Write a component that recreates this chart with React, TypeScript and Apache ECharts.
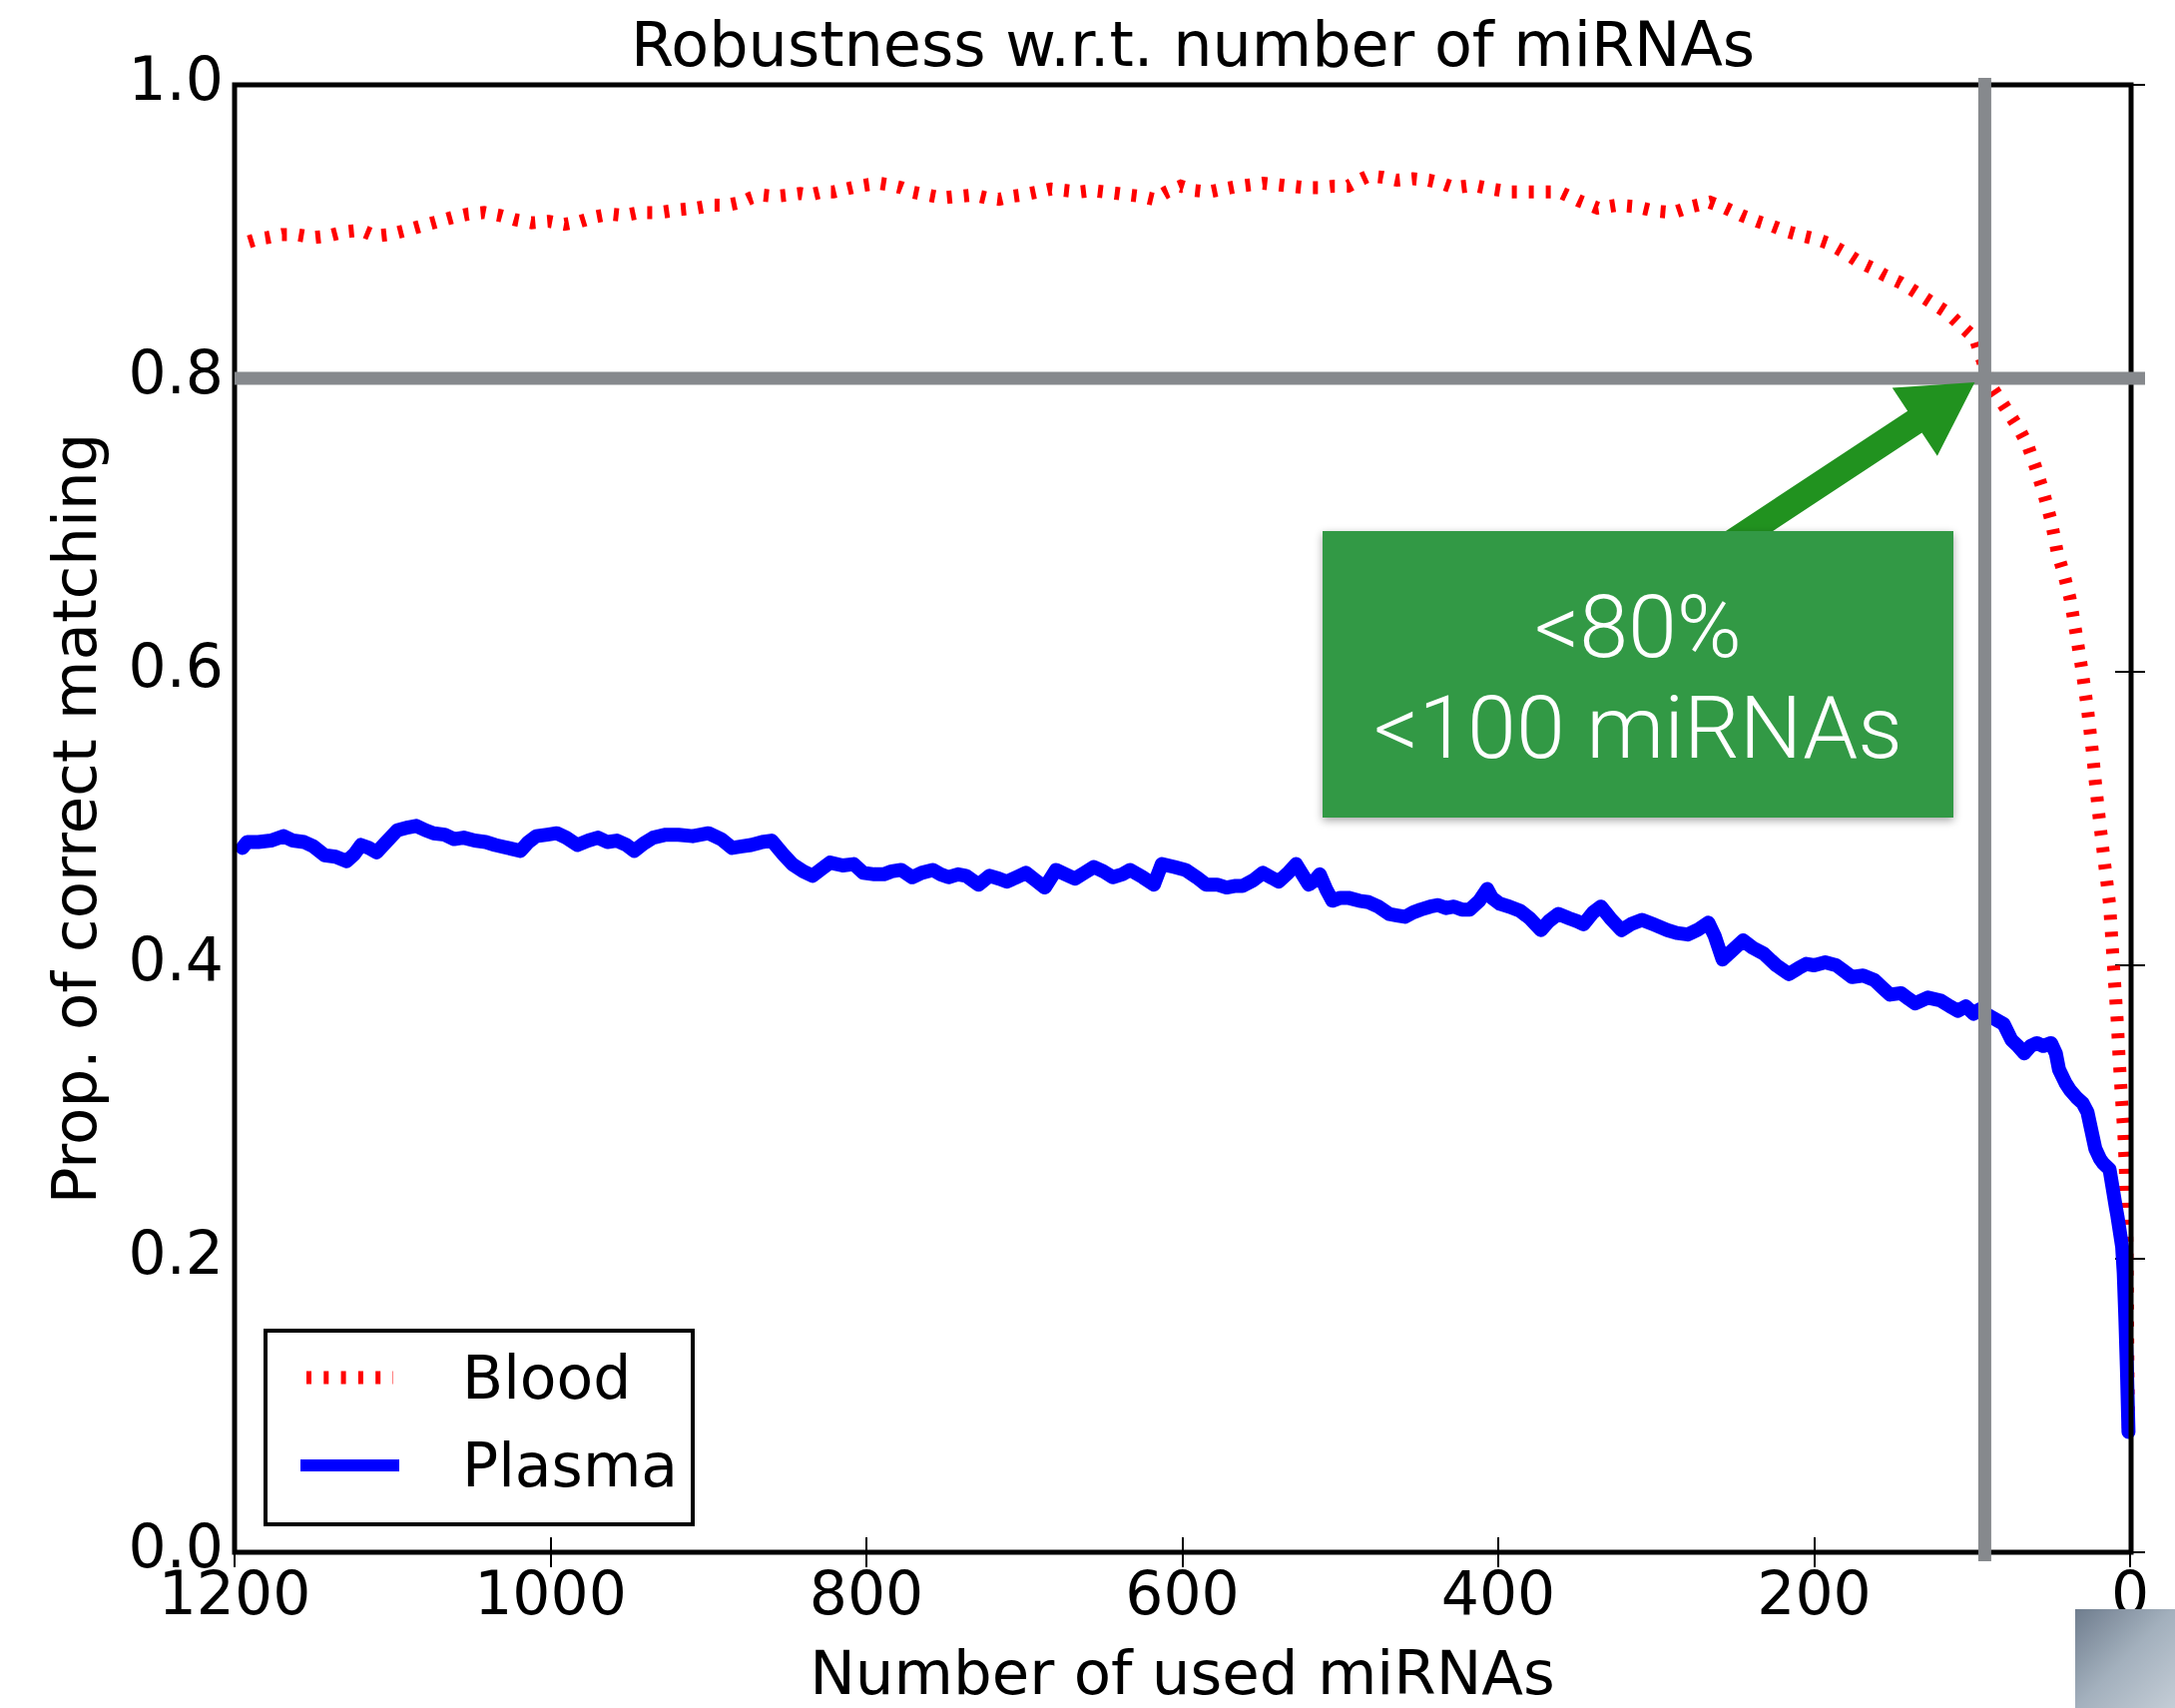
import React, { useEffect, useRef } from "react";
import * as echarts from "echarts";

const titleText = "Robustness w.r.t. number of miRNAs";
const xAxisName = "Number of used miRNAs";
const yAxisName = "Prop. of correct matching";
const seriesNames = ["Blood", "Plasma"];
const xTicks = [0, 200, 400, 600, 800, 1000, 1200];
const yTicks = [0, 0.2, 0.4, 0.6, 0.8, 1.0];
const thresholdProp = 0.8;
const thresholdCount = 92;
const calloutLines = ["<80%", "<100 miRNAs"];

// Blood (red dotted)
const bloodN = [1191, 1185, 1179, 1170, 1161, 1150, 1141, 1130, 1120, 1111, 1102, 1091, 1081, 1071, 1061, 1052, 1042, 1032, 1022, 1012, 1001, 991, 981, 972, 962, 953, 944, 931, 918, 908, 897, 888, 879, 873, 867, 858, 849, 842, 836, 828, 821, 813, 805, 799, 792, 786, 778, 771, 762, 752, 742, 732, 724, 716, 708, 701, 692, 683, 674, 665, 657, 649, 641, 634, 626, 618, 610, 601, 592, 583, 574, 564, 556, 549, 540, 531, 522, 513, 504, 495, 488, 482, 473, 464, 454, 444, 436, 428, 420, 413, 404, 392, 377, 361, 349, 337, 325, 313, 301, 289, 278, 266, 256, 246, 236, 227, 217, 207, 199, 191, 181, 171, 163, 155, 145, 136, 126, 116, 107, 98, 92, 87, 82, 76, 70, 65, 60, 55, 50, 46, 42, 38, 34, 30, 27, 24, 22, 19, 16, 13, 10, 8, 7, 6, 5, 4, 3, 2, 1];
const bloodV = [0.893, 0.895, 0.896, 0.898, 0.898, 0.896, 0.897, 0.9, 0.901, 0.897, 0.898, 0.901, 0.904, 0.907, 0.91, 0.912, 0.913, 0.911, 0.908, 0.906, 0.907, 0.905, 0.907, 0.91, 0.912, 0.911, 0.913, 0.913, 0.915, 0.916, 0.918, 0.918, 0.92, 0.923, 0.925, 0.924, 0.925, 0.926, 0.925, 0.927, 0.927, 0.929, 0.931, 0.932, 0.933, 0.932, 0.93, 0.927, 0.925, 0.923, 0.924, 0.925, 0.923, 0.922, 0.924, 0.925, 0.927, 0.929, 0.928, 0.927, 0.928, 0.927, 0.926, 0.925, 0.924, 0.922, 0.927, 0.931, 0.928, 0.927, 0.929, 0.931, 0.932, 0.933, 0.932, 0.931, 0.93, 0.93, 0.931, 0.931, 0.935, 0.938, 0.937, 0.935, 0.936, 0.935, 0.933, 0.93, 0.931, 0.931, 0.929, 0.927, 0.927, 0.927, 0.921, 0.916, 0.918, 0.917, 0.914, 0.913, 0.917, 0.92, 0.916, 0.911, 0.907, 0.904, 0.9, 0.897, 0.895, 0.892, 0.886, 0.879, 0.875, 0.87, 0.865, 0.859, 0.852, 0.845, 0.836, 0.827, 0.807, 0.793, 0.785, 0.775, 0.765, 0.755, 0.74, 0.723, 0.703, 0.681, 0.667, 0.65, 0.625, 0.598, 0.575, 0.547, 0.525, 0.495, 0.468, 0.442, 0.391, 0.36, 0.338, 0.32, 0.302, 0.287, 0.262, 0.21, 0.078];

// Plasma (blue solid)
const plasmaN = [1195, 1192, 1185, 1177, 1169, 1163, 1156, 1150, 1143, 1136, 1129, 1124, 1120, 1115, 1110, 1104, 1097, 1090, 1085, 1079, 1074, 1067, 1061, 1055, 1048, 1041, 1035, 1027, 1019, 1014, 1009, 1002, 996, 990, 983, 976, 970, 964, 958, 952, 947, 941, 935, 927, 919, 910, 900, 892, 885, 879, 873, 866, 860, 853, 847, 840, 834, 828, 823, 815, 808, 802, 795, 789, 784, 778, 771, 765, 758, 753, 748, 742, 737, 729, 722, 716, 711, 705, 699, 693, 687, 680, 674, 668, 662, 656, 650, 644, 638, 633, 625, 618, 613, 605, 598, 591, 585, 578, 572, 567, 562, 555, 549, 544, 539, 533, 528, 524, 520, 516, 513, 509, 505, 500, 495, 488, 482, 476, 469, 464, 459, 454, 449, 443, 438, 433, 428, 423, 418, 412, 407, 404, 399, 393, 386, 380, 373, 368, 362, 355, 350, 346, 340, 335, 329, 322, 316, 309, 302, 293, 287, 280, 274, 267, 263, 258, 252, 245, 239, 232, 224, 216, 210, 205, 200, 193, 186, 181, 176, 169, 162, 157, 152, 145, 140, 136, 128, 120, 114, 109, 104, 99, 95, 90, 85, 80, 75, 71, 67, 63, 59, 55, 50, 47, 45, 41, 38, 34, 30, 27, 25, 22, 19, 17, 15, 13, 11, 9, 8, 7, 6, 5, 4, 3, 2, 1];
const plasmaV = [0.48, 0.484, 0.484, 0.485, 0.488, 0.485, 0.484, 0.481, 0.475, 0.474, 0.471, 0.476, 0.482, 0.48, 0.477, 0.484, 0.492, 0.494, 0.495, 0.492, 0.49, 0.489, 0.486, 0.487, 0.485, 0.484, 0.482, 0.48, 0.478, 0.484, 0.488, 0.489, 0.49, 0.487, 0.482, 0.485, 0.487, 0.484, 0.485, 0.482, 0.478, 0.483, 0.487, 0.489, 0.489, 0.488, 0.49, 0.486, 0.48, 0.481, 0.482, 0.484, 0.485, 0.476, 0.469, 0.464, 0.461, 0.466, 0.47, 0.468, 0.469, 0.463, 0.462, 0.462, 0.464, 0.465, 0.46, 0.463, 0.465, 0.462, 0.46, 0.462, 0.461, 0.455, 0.461, 0.459, 0.457, 0.46, 0.463, 0.458, 0.453, 0.465, 0.462, 0.459, 0.463, 0.467, 0.464, 0.46, 0.462, 0.465, 0.46, 0.455, 0.469, 0.467, 0.465, 0.46, 0.455, 0.455, 0.453, 0.454, 0.454, 0.458, 0.463, 0.46, 0.457, 0.463, 0.469, 0.462, 0.455, 0.458, 0.462, 0.452, 0.444, 0.446, 0.446, 0.444, 0.443, 0.44, 0.435, 0.434, 0.433, 0.436, 0.438, 0.44, 0.441, 0.439, 0.44, 0.438, 0.438, 0.444, 0.452, 0.446, 0.442, 0.44, 0.437, 0.432, 0.424, 0.43, 0.435, 0.432, 0.43, 0.428, 0.436, 0.44, 0.432, 0.424, 0.428, 0.431, 0.428, 0.424, 0.422, 0.421, 0.424, 0.429, 0.42, 0.404, 0.41, 0.417, 0.412, 0.408, 0.4, 0.394, 0.398, 0.401, 0.4, 0.402, 0.4, 0.396, 0.392, 0.393, 0.39, 0.385, 0.38, 0.381, 0.377, 0.374, 0.378, 0.376, 0.372, 0.369, 0.372, 0.367, 0.37, 0.366, 0.363, 0.36, 0.349, 0.345, 0.34, 0.345, 0.347, 0.345, 0.347, 0.34, 0.329, 0.32, 0.315, 0.31, 0.306, 0.3, 0.29, 0.275, 0.268, 0.265, 0.263, 0.261, 0.248, 0.235, 0.229, 0.222, 0.215, 0.208, 0.19, 0.16, 0.125, 0.082];

const FONT = "DejaVu Sans";

export default function App() {
  const ref = useRef<HTMLDivElement>(null);

  useEffect(() => {
    const chart = echarts.init(ref.current!, null, { renderer: "svg" });
    const bloodData = bloodN.map((n, i) => [n, bloodV[i]]);
    const plasmaData = plasmaN.map((n, i) => [n, plasmaV[i]]);

    const axisCommon = {
      type: "value" as const,
      axisLine: { show: false },
      splitLine: { show: false },
      axisTick: { show: true, inside: true, length: 15, lineStyle: { color: "#000", width: 2 } },
    };

    chart.setOption({
      animation: false,
      backgroundColor: "#ffffff",
      textStyle: { fontFamily: FONT },
      title: {
        text: titleText,
        left: 632,
        top: 13,
        padding: 0,
        textStyle: { fontFamily: FONT, fontSize: 62, fontWeight: "normal", color: "#000", lineHeight: 62 },
      },
      grid: {
        left: 235,
        top: 85,
        width: 1899,
        height: 1472,
        show: false,
      },
      xAxis: [
        {
          ...axisCommon,
          position: "bottom",
          min: 0,
          max: 1200,
          interval: 200,
          inverse: true,
          name: xAxisName,
          nameLocation: "middle",
          nameGap: 90,
          nameTextStyle: { fontFamily: FONT, fontSize: 61, color: "#000", lineHeight: 61 },
          axisLabel: {
            show: true,
            margin: 17,
            fontFamily: FONT,
            fontSize: 60,
            color: "#000",
            lineHeight: 48,
            formatter: (v: number) => (xTicks.includes(v) ? String(v) : ""),
          },
        },
        {
          ...axisCommon,
          position: "top",
          min: 0,
          max: 1200,
          interval: 200,
          inverse: true,
          axisLabel: { show: false },
        },
      ],
      yAxis: [
        {
          ...axisCommon,
          position: "left",
          min: 0,
          max: 1,
          interval: 0.2,
          name: yAxisName,
          nameLocation: "middle",
          nameGap: 130,
          nameTextStyle: { fontFamily: FONT, fontSize: 61, color: "#000", lineHeight: 61 },
          axisLabel: {
            show: true,
            margin: 11,
            fontFamily: FONT,
            fontSize: 60,
            color: "#000",
            verticalAlign: "bottom",
            lineHeight: 12,
            formatter: (v: number) => (yTicks.some((t) => Math.abs(t - v) < 1e-9) ? v.toFixed(1) : ""),
          },
        },
        {
          ...axisCommon,
          position: "right",
          min: 0,
          max: 1,
          interval: 0.2,
          axisLabel: { show: false },
        },
      ],
      series: [
        {
          name: seriesNames[0],
          type: "line",
          xAxisIndex: 0,
          yAxisIndex: 0,
          data: bloodData,
          showSymbol: false,
          symbol: "none",
          z: 3,
          lineStyle: { color: "#ff0000", width: 13, type: [5, 12], cap: "butt", join: "miter" },
        },
        {
          name: seriesNames[1],
          type: "line",
          xAxisIndex: 0,
          yAxisIndex: 0,
          data: plasmaData,
          showSymbol: false,
          symbol: "none",
          z: 4,
          lineStyle: { color: "#0000ff", width: 14, cap: "round", join: "round" },
        },
      ],
    });

    const px = (p: number[]) => chart.convertToPixel({ seriesIndex: 0 }, p) as number[];
    const [ix, iy] = px([thresholdCount, thresholdProp]);
    const [left, bottom] = px([1200, 0]);
    const [right, top] = px([0, 1]);

    // arrow geometry
    const tip = [ix - 10, iy + 4];
    const start = [1710, 560];
    const dx = tip[0] - start[0];
    const dy = tip[1] - start[1];
    const len = Math.hypot(dx, dy);
    const ux = dx / len, uy = dy / len;
    const nx = -uy, ny = ux;
    const headLen = 72, headHalf = 41, shaftHalf = 13;
    const bx = tip[0] - ux * headLen, by = tip[1] - uy * headLen;
    const arrowPts = [
      [start[0] + nx * shaftHalf, start[1] + ny * shaftHalf],
      [bx + nx * shaftHalf, by + ny * shaftHalf],
      [bx + nx * headHalf, by + ny * headHalf],
      tip,
      [bx - nx * headHalf, by - ny * headHalf],
      [bx - nx * shaftHalf, by - ny * shaftHalf],
      [start[0] - nx * shaftHalf, start[1] - ny * shaftHalf],
    ];

    const boxL = 1325, boxT = 532, boxW = 632, boxH = 287;

    chart.setOption({
      graphic: [
        {
          type: "rect",
          z: 15,
          shape: { x: left, y: top, width: right - left + 1, height: bottom - top },
          style: { fill: "none", stroke: "#000", lineWidth: 5 },
          silent: true,
        },
        {
          type: "line",
          z: 20,
          shape: { x1: left, y1: iy, x2: right + 15, y2: iy },
          style: { stroke: "#86898d", lineWidth: 13 },
        },
        {
          type: "line",
          z: 20,
          shape: { x1: ix, y1: top - 7, x2: ix, y2: bottom + 9 },
          style: { stroke: "#86898d", lineWidth: 13 },
        },
        {
          type: "polygon",
          z: 21,
          shape: { points: arrowPts },
          style: { fill: "#21921f" },
        },
        {
          type: "rect",
          z: 22,
          shape: { x: boxL, y: boxT, width: boxW, height: boxH },
          style: {
            fill: "#339944",
            shadowBlur: 8,
            shadowColor: "rgba(0,0,0,0.35)",
            shadowOffsetX: 0,
            shadowOffsetY: 3,
          },
        },
        {
          type: "text",
          z: 23,
          x: boxL + boxW / 2,
          y: 627,
          style: {
            text: calloutLines[0],
            fill: "#ffffff",
            font: "300 88px Roboto",
            textAlign: "center",
            textVerticalAlign: "middle",
          },
        },
        {
          type: "text",
          z: 23,
          x: boxL + boxW / 2,
          y: 728,
          style: {
            text: calloutLines[1],
            fill: "#ffffff",
            font: "300 88px Roboto",
            textAlign: "center",
            textVerticalAlign: "middle",
          },
        },
        // legend
        {
          type: "group",
          z: 24,
          children: [
            {
              type: "rect",
              shape: { x: 266, y: 1333, width: 428, height: 194 },
              style: { fill: "#ffffff", stroke: "#000", lineWidth: 4 },
            },
            {
              type: "line",
              shape: { x1: 307, y1: 1380, x2: 394, y2: 1380 },
              style: { stroke: "#ff0000", lineWidth: 13, lineDash: [5, 12.3] },
            },
            {
              type: "line",
              shape: { x1: 301, y1: 1468, x2: 400, y2: 1468 },
              style: { stroke: "#0000ff", lineWidth: 12 },
            },
            {
              type: "text",
              x: 463,
              y: 1380,
              style: { text: seriesNames[0], fill: "#000", font: `60px "${FONT}"`, textVerticalAlign: "middle" },
            },
            {
              type: "text",
              x: 463,
              y: 1468,
              style: { text: seriesNames[1], fill: "#000", font: `60px "${FONT}"`, textVerticalAlign: "middle" },
            },
          ],
        },
        {
          type: "rect",
          z: 30,
          shape: { x: 2079, y: 1612, width: 100, height: 99 },
          style: {
            fill: {
              type: "linear",
              x: 0,
              y: 0,
              x2: 1,
              y2: 1,
              colorStops: [
                { offset: 0, color: "#6f7d8e" },
                { offset: 0.5, color: "#a3b0bd" },
                { offset: 1, color: "#c4cdd6" },
              ],
            },
          },
        },
      ],
    });

    return () => chart.dispose();
  }, []);

  return (
    <div
      ref={ref}
      style={{ position: "absolute", left: 0, top: 0, width: 2179, height: 1711 }}
    />
  );
}
